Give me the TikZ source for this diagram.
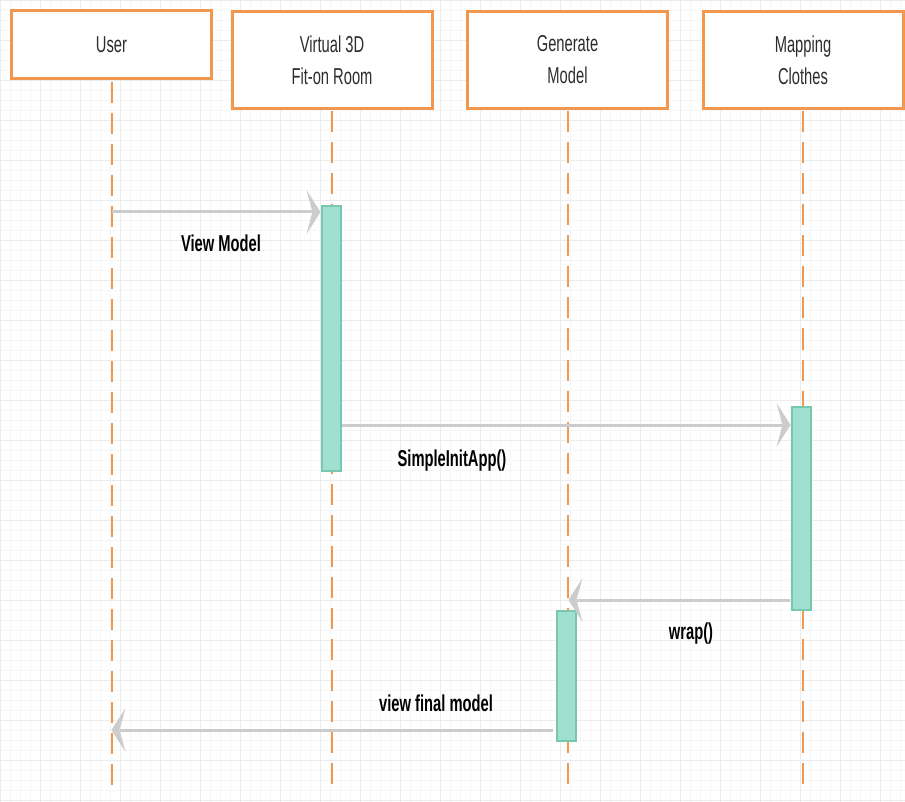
\documentclass[tikz,border=0pt]{standalone}
\usepackage{fontspec}
\setmainfont[FakeStretch=0.64]{Liberation Sans}
\definecolor{boxorange}{RGB}{240,152,80}
\definecolor{actfill}{RGB}{160,224,208}
\definecolor{actdraw}{RGB}{120,200,175}
\definecolor{msgline}{RGB}{204,204,204}
\definecolor{gridminor}{RGB}{246,246,246}
\definecolor{gridmajor}{RGB}{236,236,236}
\definecolor{boxtext}{RGB}{45,45,45}
\begin{document}
\begin{tikzpicture}[x=1pt,y=-1pt,
 actor/.style={draw=boxorange,line width=3pt,fill=white,text=boxtext,align=center,
   font=\fontsize{23}{32}\selectfont,inner sep=0pt,minimum width=200pt},
 lifeline/.style={draw=boxorange,line width=2pt,dash pattern=on 21pt off 10pt},
 activation/.style={draw=actdraw,fill=actfill,line width=2pt,minimum width=19pt,inner sep=0pt,anchor=north},
 msg/.style={draw=msgline,line width=3pt,shorten >=8pt},
 tiphead/.style={fill=msgline},
 msglabel/.style={font=\bfseries\fontsize{23}{27}\selectfont,text=black}
]
\useasboundingbox (0,0) rectangle (905,802);
\fill[white] (0,0) rectangle (905,802);
% grid
\foreach \i in {0,10,...,900} {\draw[gridminor,line width=0.8pt] (\i,0) -- (\i,802);}
\foreach \j in {0,10,...,800} {\draw[gridminor,line width=0.8pt] (0,\j) -- (905,\j);}
\foreach \i in {0,40,...,900} {\draw[gridmajor,line width=0.8pt] (\i,0) -- (\i,802);}
\foreach \j in {0,40,...,800} {\draw[gridmajor,line width=0.8pt] (0,\j) -- (905,\j);}

% actors
\node[actor,minimum height=68pt] (usr) at (111.5,45) {User};
\node[actor,minimum height=97pt] (vr) at (332,60) {Virtual 3D\\Fit-on Room};
\node[actor,minimum height=97pt] (gen) at (567.5,60) {Generate\\Model};
\node[actor,minimum height=97pt] (map) at (803,60) {Mapping\\Clothes};

% lifeline ends
\coordinate (usrE) at (111.5,788);
\coordinate (vrE) at (332,788);
\coordinate (genE) at (567.5,788);
\coordinate (mapE) at (803,788);
\draw[lifeline] ([yshift=-1.5pt]usr.south) -- (usrE);
\draw[lifeline] ([yshift=-1.5pt]vr.south) -- (vrE);
\draw[lifeline] ([yshift=-1.5pt]gen.south) -- (genE);
\draw[lifeline] ([yshift=-1.5pt]map.south) -- (mapE);

% activations
\node[activation,minimum height=265pt] (a1) at (331,205) {};
\node[activation,minimum height=203pt] (a2) at (801,406) {};
\node[activation,minimum height=130pt] (a3) at (566.5,610) {};

% messages
\coordinate (m1s) at (111.5,212);
\coordinate (m1e) at (m1s -| a1.west);
\draw[msg] (m1s) -- (m1e);
\fill[tiphead,shift={(m1e)}] (0,0) -- (-14,-22) -- (-8,0) -- (-14,22) -- cycle;
\node[msglabel] (l1) at (221,243) {View Model};

\coordinate (m2s) at (341.5,425);
\coordinate (m2e) at (m2s -| a2.west);
\draw[msg] (m2s) -- (m2e);
\fill[tiphead,shift={(m2e)}] (0,0) -- (-14,-22) -- (-8,0) -- (-14,22) -- cycle;
\node[msglabel] (l2) at (452,461) {SimpleInitApp()};

\coordinate (m3s) at (790,600);
\coordinate (m3e) at ([xshift=1pt]m3s -| gen.south);
\draw[msg] (m3s) -- (m3e);
\fill[tiphead,shift={(m3e)}] (0,0) -- (14,-22) -- (8,0) -- (14,22) -- cycle;
\node[msglabel] (l3) at (691,634) {wrap()};

\coordinate (m4s) at (553,730);
\coordinate (m4e) at (m4s -| usr.south);
\draw[msg] (m4s) -- (m4e);
\fill[tiphead,shift={(m4e)}] (0,0) -- (14,-22) -- (8,0) -- (14,22) -- cycle;
\node[msglabel] (l4) at (436,703) {view final model};
\end{tikzpicture}
\end{document}
